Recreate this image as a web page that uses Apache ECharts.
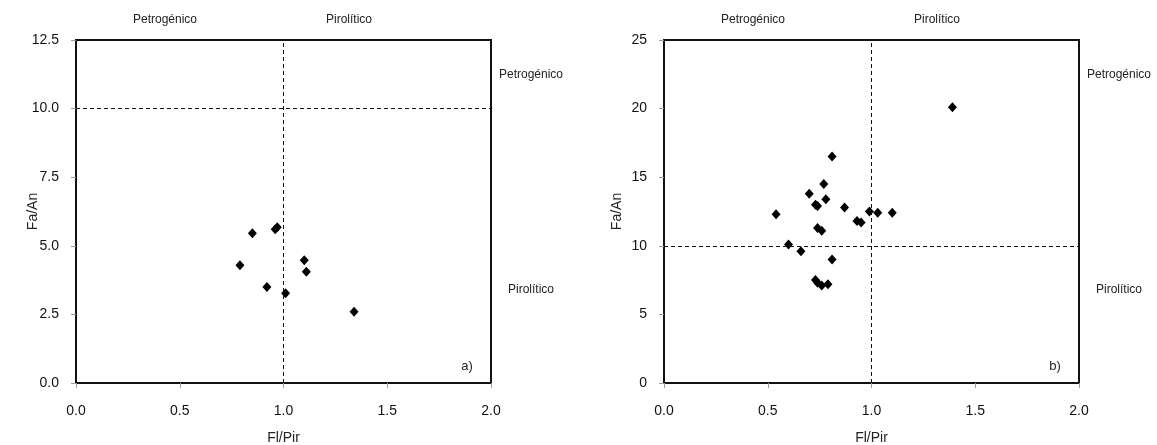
<!DOCTYPE html>
<html>
<head>
<meta charset="utf-8">
<script src="https://cdn.jsdelivr.net/npm/echarts@6/dist/echarts.min.js"></script>
<style>
  html, body { margin: 0; padding: 0; background: #fff; }
  #chart { width: 1157px; height: 445px; }
</style>
</head>
<body>
<div id="chart"></div>
<script>
// Panel a) Fl/Pir vs Fa/An
const fiPirA = [0.85, 0.96, 0.97, 0.79, 1.10, 1.11, 0.92, 1.01, 1.34];
const faAnA  = [5.46, 5.60, 5.68, 4.29, 4.47, 4.05, 3.50, 3.27, 2.60];

// Panel b) Fl/Pir vs Fa/An
const fiPirB = [1.39, 0.81, 0.77, 0.70, 0.73, 0.74, 0.78, 0.87, 0.54, 0.99, 1.03, 1.10, 0.93, 0.95, 0.74, 0.76, 0.60, 0.66, 0.81, 0.73, 0.74, 0.76, 0.79];
const faAnB  = [20.1, 16.5, 14.5, 13.8, 13.0, 12.9, 13.4, 12.8, 12.3, 12.5, 12.4, 12.4, 11.8, 11.7, 11.3, 11.1, 10.1, 9.6, 9.0, 7.5, 7.3, 7.1, 7.2];

// Threshold values separating petrogenic and pyrolytic sources
const fiPirLimit = 1.0;
const faAnLimit = 10;

const panelLetters = ['a)', 'b)'];
const sourceLabels = ['Petrogénico', 'Pirolítico'];

const font = 'Liberation Sans, Arial, sans-serif';
const pair = (xs, ys) => xs.map((x, i) => [x, ys[i]]);

const grids = [
  { left: 76, top: 40, width: 415, height: 343, outerBoundsMode: 'none', containLabel: false },
  { left: 664, top: 40, width: 415, height: 343, outerBoundsMode: 'none', containLabel: false }
];

function xAxis(i) {
  return {
    gridIndex: i, type: 'value', min: 0, max: 2, interval: 0.5,
    name: 'Fl/Pir', nameLocation: 'middle', nameGap: 48, nameMoveOverlap: false,
    nameTextStyle: { fontFamily: font, fontSize: 14, color: '#222' },
    axisLine: { show: true, onZero: false, lineStyle: { color: '#111', width: 2 } },
    axisTick: { show: true, length: 5, lineStyle: { color: '#999' } },
    axisLabel: { fontFamily: font, fontSize: 14, color: '#111', margin: 21,
      formatter: v => v.toFixed(1) },
    splitLine: { show: false }
  };
}
function yAxis(i, max, interval, decimals, gap) {
  return {
    gridIndex: i, type: 'value', min: 0, max: max, interval: interval,
    name: 'Fa/An', nameLocation: 'middle', nameGap: gap, nameMoveOverlap: false,
    nameTextStyle: { fontFamily: font, fontSize: 14, color: '#222' },
    axisLine: { show: true, onZero: false, lineStyle: { color: '#111', width: 2 } },
    axisTick: { show: true, length: 5, lineStyle: { color: '#999' } },
    axisLabel: { fontFamily: font, fontSize: 14, color: '#111', margin: 17,
      formatter: v => v.toFixed(decimals) },
    splitLine: { show: false }
  };
}

const dashed = { type: [4, 3], color: '#111', width: 1 };
function series(i, xs, ys) {
  return {
    type: 'scatter', xAxisIndex: i, yAxisIndex: i,
    data: pair(xs, ys), symbol: 'diamond', symbolSize: [9, 10],
    itemStyle: { color: '#000', opacity: 1 },
    markLine: {
      silent: true, symbol: 'none', label: { show: false },
      lineStyle: dashed,
      data: [{ xAxis: fiPirLimit }, { yAxis: faAnLimit }]
    }
  };
}

const texts = [];
const labelStyle = (text, size) => ({ text: text, font: size + 'px ' + font, fill: '#222', textAlign: 'center', textVerticalAlign: 'middle' });
grids.forEach((g, i) => {
  texts.push({ type: 'text', x: g.left + 89, y: 20, style: labelStyle(sourceLabels[0], 12) });
  texts.push({ type: 'text', x: g.left + 273, y: 20, style: labelStyle(sourceLabels[1], 12) });
  texts.push({ type: 'text', x: g.left + g.width + 40, y: 75, style: labelStyle(sourceLabels[0], 12) });
  texts.push({ type: 'text', x: g.left + g.width + 40, y: 290, style: labelStyle(sourceLabels[1], 12) });
  texts.push({ type: 'text', x: g.left + g.width - 24, y: 366, style: labelStyle(panelLetters[i], 13) });
  // plot frame
  texts.push({ type: 'rect', shape: { x: g.left, y: g.top, width: g.width, height: g.height },
    style: { fill: 'none', stroke: '#111', lineWidth: 2 }, silent: true });
});

const chart = echarts.init(document.getElementById('chart'), null, { renderer: 'canvas' });
chart.setOption({
  animation: false,
  backgroundColor: '#fff',
  grid: grids,
  xAxis: [xAxis(0), xAxis(1)],
  yAxis: [yAxis(0, 12.5, 2.5, 1, 36), yAxis(1, 25, 5, 0, 40)],
  series: [series(0, fiPirA, faAnA), series(1, fiPirB, faAnB)],
  graphic: texts
});
</script>
</body>
</html>
